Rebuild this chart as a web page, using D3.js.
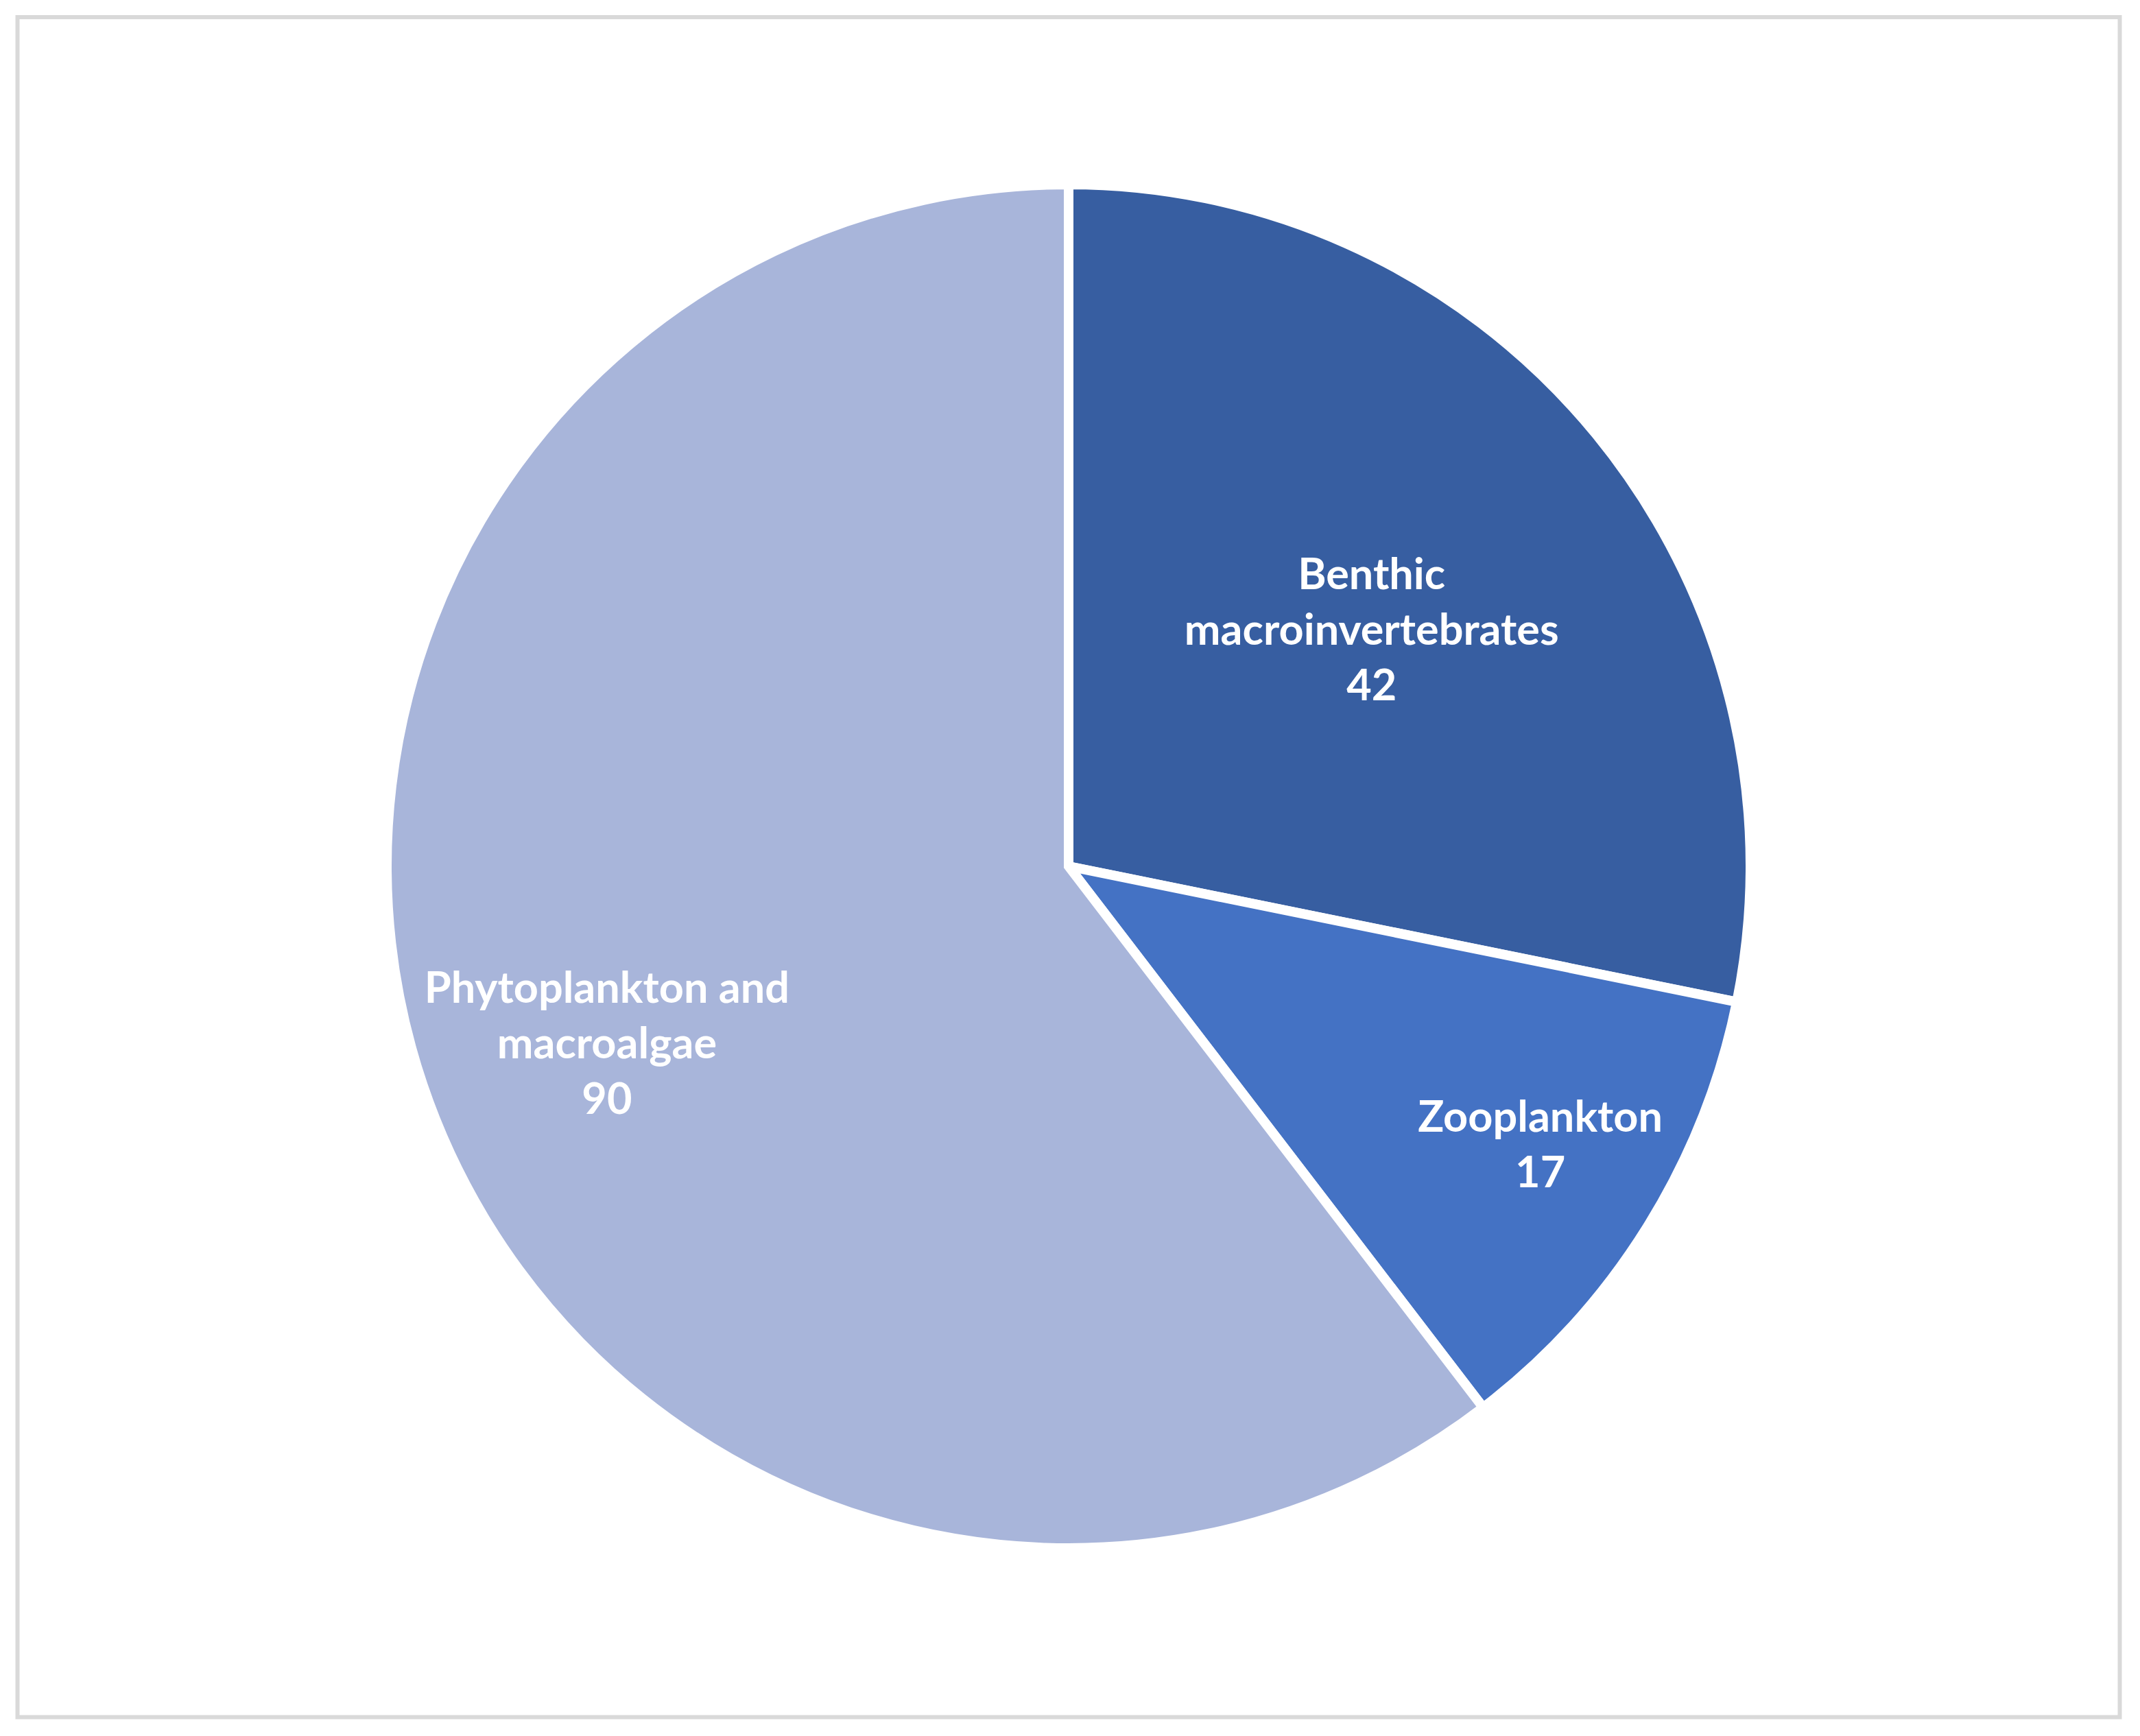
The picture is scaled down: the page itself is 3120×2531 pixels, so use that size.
<!DOCTYPE html>
<html>
<head>
<meta charset="utf-8">
<script src="https://cdn.jsdelivr.net/npm/d3@7"></script>
<style>
html,body{margin:0;padding:0;background:#fff;}
svg{display:block;}
</style>
</head>
<body>
<script>
// Data
const categories = ["Benthic macroinvertebrates", "Zooplankton", "Phytoplankton and macroalgae"];
const values = [42, 17, 90];
const labelLines = [["Benthic", "macroinvertebrates"], ["Zooplankton"], ["Phytoplankton and", "macroalgae"]];
const colors = ["#375ea1", "#4472c4", "#a8b5da"];

// Layout
const W = 3120, H = 2531;
const cx = 1558, cy = 1263, R = 994;
const labelK = [0.564, 0.803, 0.725];
const labelAngleOffsetDeg = [1.25, -1.5, -2.2];
const fontSize = 63, lineH = 81;

const svg = d3.select("body").append("svg").attr("width", W).attr("height", H);
svg.append("rect").attr("x", 0).attr("y", 0).attr("width", W).attr("height", H).attr("fill", "#fff");
svg.append("rect").attr("x", 25.5).attr("y", 25).attr("width", 3090.5 - 25.5).attr("height", 2503.5 - 25)
  .attr("fill", "none").attr("stroke", "#d9d9d9").attr("stroke-width", 6);

const data = categories.map((c, i) => ({cat: c, value: values[i], i}));
const pie = d3.pie().value(d => d.value).sort(null);
const arcs = pie(data);
const arc = d3.arc().innerRadius(0).outerRadius(R);

const g = svg.append("g").attr("transform", `translate(${cx},${cy})`);
g.selectAll("path").data(arcs).join("path")
  .attr("d", arc)
  .attr("fill", d => colors[d.data.i])
  .attr("stroke", "#fff").attr("stroke-width", 14).attr("stroke-linejoin", "miter");

arcs.forEach(d => {
  const i = d.data.i;
  const off = labelAngleOffsetDeg[i] * Math.PI / 180;
  const a = (d.startAngle + d.endAngle) / 2 + off;
  const r = R * labelK[i];
  const x = r * Math.sin(a), y = -r * Math.cos(a);
  const lines = labelLines[i].concat([String(values[i])]);
  const n = lines.length;
  const t = g.append("text")
    .attr("text-anchor", "middle")
    .attr("font-family", "Lato, 'Open Sans', sans-serif")
    .attr("font-size", fontSize)
    .attr("font-weight", 700)
    .attr("fill", "#fff");
  lines.forEach((ln, k) => {
    t.append("tspan").attr("x", x).attr("y", y + (k - (n - 1) / 2) * lineH + fontSize * 0.36).text(ln);
  });
});
</script>
</body>
</html>
